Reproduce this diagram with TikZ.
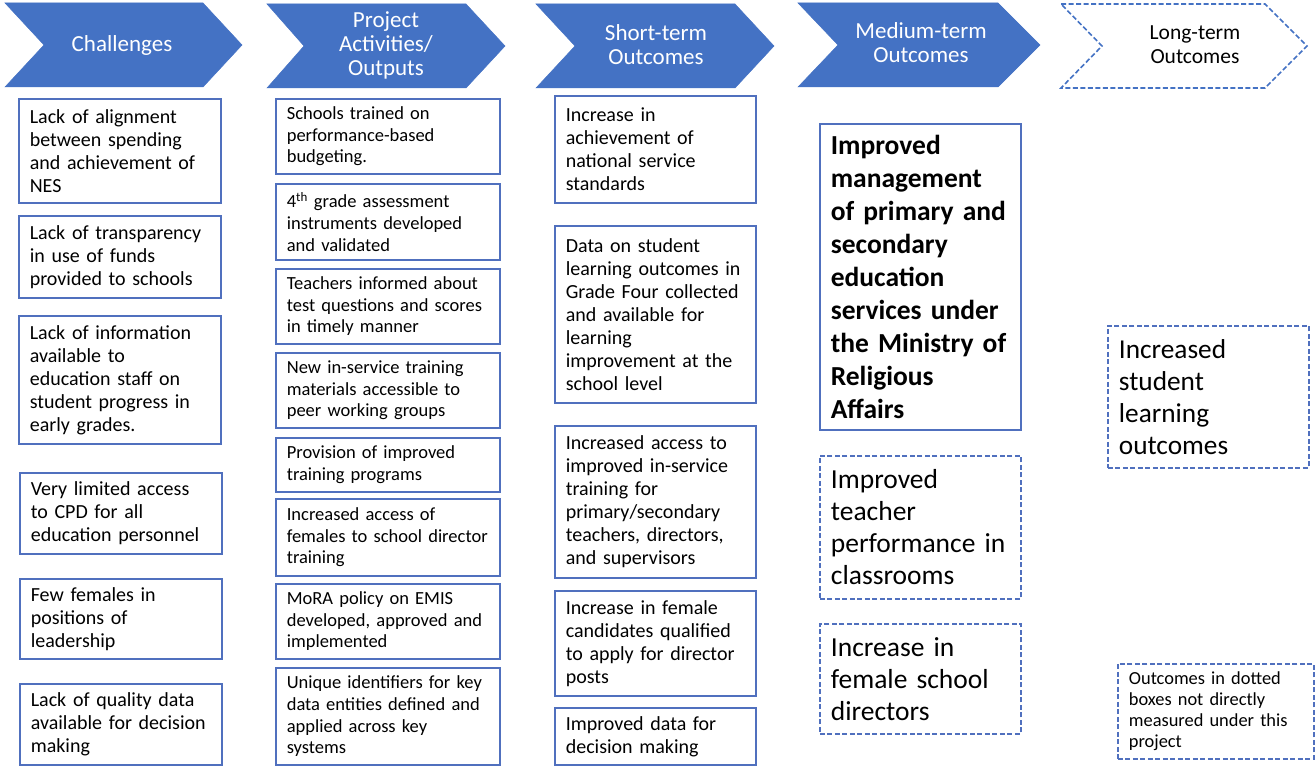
\documentclass[tikz,border=0pt]{standalone}
\usepackage{fontspec}
\setmainfont{Carlito}
\definecolor{oblue}{RGB}{68,114,196}
\definecolor{obox}{RGB}{80,112,190}
\tikzset{
  box/.style={draw=obox, line width=1.6pt, anchor=north west, inner xsep=11pt, inner ysep=0pt, align=left, fill=white, text=black},
  dbox/.style={box, dash pattern=on 5pt off 2.5pt, line width=1.8pt},
  colA/.style={text width=180pt, font=\fontsize{20}{23}\selectfont},
  colB/.style={text width=202pt, font=\fontsize{18.5}{21.7}\selectfont},
  colC/.style={text width=179pt, font=\fontsize{20}{23}\selectfont},
  colD/.style={text width=179pt, font=\fontsize{27.5}{33}\selectfont\bfseries},
  colDd/.style={text width=179pt, font=\fontsize{27.5}{32}\selectfont},
  colE/.style={text width=179pt, font=\fontsize{27.3}{32}\selectfont},
  legendbox/.style={text width=174pt, font=\fontsize{18.4}{21}\selectfont},
  chev/.style={fill=oblue, draw=oblue, line width=0.5pt},
  chevtext/.style={text=white, align=center, font=\fontsize{23}{24}\selectfont},
}
\newcommand\bx[6]{\node[#1, minimum height=#5pt] (#2) at (#3,#4) {#6};}
\begin{document}
\begin{tikzpicture}[x=1pt,y=-1pt]
\useasboundingbox[fill=white] (0,0) rectangle (1316,765);
% chevrons
\path[chev] (5,3) -- (203,3) -- (242,45) -- (203,87) -- (5,87) -- (44,45) -- cycle;
\node[chevtext] (h1) at (122,45) {Challenges};
\path[chev] (267,4) -- (466,4) -- (505,46) -- (466,88) -- (267,88) -- (304,46) -- cycle;
\node[chevtext] (h2) at (386,45) {Project\\Activities/\\Outputs};
\path[chev] (536,4) -- (735,4) -- (774,46) -- (735,88) -- (536,88) -- (575,46) -- cycle;
\node[chevtext] (h3) at (656,45) {Short-term\\Outcomes};
\path[chev] (798,3) -- (998,3) -- (1040,45) -- (998,87) -- (798,87) -- (838,45) -- cycle;
\node[chevtext] (h4) at (921,43) {Medium-term\\Outcomes};
\path[draw=oblue, line width=1.6pt, dash pattern=on 5pt off 2.5pt] (1061,4) -- (1265,4) -- (1307,46) -- (1265,88) -- (1061,88) -- (1102,46) -- cycle;
\node[chevtext, text=black, font=\fontsize{21.5}{24}\selectfont] (h5) at (1195,45) {Long-term\\Outcomes};
% column 1
\bx{box,colA}{a1}{18}{98}{104}{Lack of alignment\\between spending\\and achievement of\\NES}
\bx{box,colA}{a2}{18}{215}{82}{Lack of transparency\\in use of funds\\provided to schools}
\bx{box,colA}{a3}{18}{315}{128}{Lack of information\\available to\\education staff on\\student progress in\\early grades.}
\bx{box,colA}{a4}{19}{472}{81}{Very limited access\\to CPD for all\\education personnel}
\bx{box,colA}{a5}{19}{578}{80}{Few females in\\positions of\\leadership}
\bx{box,colA}{a6}{19}{683}{81}{Lack of quality data\\available for decision\\making}
% column 2
\bx{box,colB}{b1}{275}{98}{75}{Schools trained on\\performance-based\\budgeting.}
\bx{box,colB}{b2}{275}{183}{76}{4\textsuperscript{th} grade assessment\\instruments developed\\and validated}
\bx{box,colB}{b3}{275}{268}{75}{Teachers informed about\\test questions and scores\\in timely manner}
\bx{box,colB}{b4}{275}{352}{75}{New in-service training\\materials accessible to\\peer working groups}
\bx{box,colB}{b5}{275}{437}{54}{Provision of improved\\training programs}
\bx{box,colB}{b6}{275}{498}{77}{Increased access of\\females to school director\\training}
\bx{box,colB}{b7}{275}{583}{75}{MoRA policy on EMIS\\developed, approved and\\implemented}
\bx{box,colB}{b8}{275}{667}{97}{Unique identifiers for key\\data entities defined and\\applied across key\\systems}
% column 3
\bx{box,colC}{c1}{554}{95}{107}{Increase in\\achievement of\\national service\\standards}
\bx{box,colC}{c2}{554}{225}{177}{Data on student\\learning outcomes in\\Grade Four collected\\and available for\\learning\\improvement at the\\school level}
\bx{box,colC}{c3}{554}{425}{152}{Increased access to\\improved in-service\\training for\\primary/secondary\\teachers, directors,\\and supervisors}
\bx{box,colC}{c4}{554}{590}{105}{Increase in female\\candidates qualified\\to apply for director\\posts}
\bx{box,colC}{c5}{554}{707}{57}{Improved data for\\decision making}
% column 4
\bx{box,colD}{d1}{819}{123}{306}{Improved\\management\\of primary and\\secondary\\education\\services under\\the Ministry of\\Religious\\Affairs}
\bx{dbox,colDd}{d2}{819}{455}{143}{Improved\\teacher\\performance in\\classrooms}
\bx{dbox,colDd}{d3}{819}{623}{110}{Increase in\\female school\\directors}
% column 5
\bx{dbox,colE}{e1}{1107}{325}{142}{Increased\\student\\learning\\outcomes}
\bx{dbox,legendbox}{e2}{1117}{663}{95}{Outcomes in dotted\\boxes not directly\\measured under this\\project}
\end{tikzpicture}
\end{document}
